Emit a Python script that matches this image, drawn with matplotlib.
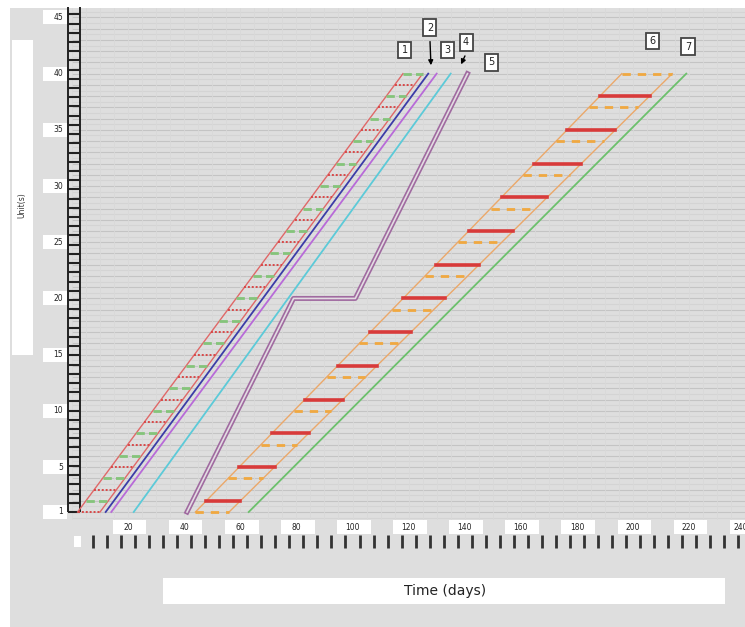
import matplotlib.pyplot as plt
import numpy as np
from matplotlib.patches import Rectangle

# Dane: czas (dni) vs jednostka (piętro)
y_ends = [1, 40]
band1_left = [2, 118]
band1_right = [10, 125]
line2_x = [12, 127]
line3_x = [14, 130]
line4_x = [22, 135]
line5_x = [41, 79, 101, 141]
line5_y = [1, 20, 20, 40]
band6_left = [44, 196]
band6_right = [56, 214]
line7_x = [63, 219]

y_tick_vals = [1, 5, 10, 15, 20, 25, 30, 35, 40, 45]
x_tick_vals = [20, 40, 60, 80, 100, 120, 140, 160, 180, 200, 220, 240]

labels = ['1', '2', '3', '4', '5', '6', '7']
label_pos = [(118.7, 42.1), (127.6, 44.1), (134, 42.1), (140.5, 42.8),
             (149.4, 41.0), (206.8, 42.9), (219.6, 42.4)]
arrow_to = {'2': (128, 40.5), '4': (138.3, 40.6)}

BG = '#dedede'
W, H = 745, 627

fig = plt.figure(figsize=(7.45, 6.27), dpi=100)
fig.patch.set_facecolor(BG)
# białe marginesy (lewy i górny)
fig.patches.append(Rectangle((0, 0), 10 / W, 1, transform=fig.transFigure,
                             facecolor='white', edgecolor='none', zorder=1))
fig.patches.append(Rectangle((0, 1 - 8 / H), 1, 8 / H, transform=fig.transFigure,
                             facecolor='white', edgecolor='none', zorder=1))
# ramka na opis osi y
fig.patches.append(Rectangle((12 / W, 1 - 355 / H), 21 / W, 315 / H,
                             transform=fig.transFigure, facecolor='white',
                             edgecolor='none', zorder=1))
fig.text(22 / W, 1 - 205 / H, 'Unit(s)', rotation=90, ha='center', va='center',
         fontsize=5.5, color='#333333')
# ramka na opis osi x
fig.patches.append(Rectangle((163 / W, 1 - 604 / H), 562 / W, 26 / H,
                             transform=fig.transFigure, facecolor='white',
                             edgecolor='none', zorder=1))
fig.text(445 / W, 1 - 591 / H, 'Time (days)', ha='center', va='center',
         fontsize=10, color='#222222')

ax = fig.add_axes([72 / W, (H - 520) / H, 673 / W, 512 / H])
ax.set_zorder(5)
ax.set_facecolor(BG)
px_day = 2.805
px_unit = 11.24
ax.set_xlim(0, 673 / px_day)
ax.set_ylim(1 - 8 / px_unit, 1 + 504 / px_unit)
for s in ax.spines.values():
    s.set_visible(False)
ax.set_xticks([])
ax.set_yticks([])

# tło - siatka
for u in np.arange(0.5, 46, 0.5):
    ax.axhline(u, color='#c4c4c4' if u % 1 == 0 else '#d4d4d4', lw=0.8, zorder=1)
for d in np.arange(0, 240, 5):
    ax.axvline(d, color='#d9d9d9', lw=0.6, zorder=1)

# drabinka osi y
ax.vlines([-1.3, 2.8], 1, 45.9, color='#222222', lw=1.4, clip_on=False, zorder=3)
ax.hlines(np.arange(1, 46, 0.82), -1.3, 2.8, color='#222222', lw=1.5,
          clip_on=False, zorder=3)

# drabinka osi x
xt = ax.get_xaxis_transform()
yt = ax.get_yaxis_transform()
ax.vlines(np.arange(7.5, 240, 5), -0.030, -0.055, color='#333333', lw=2.0,
          transform=xt, clip_on=False)
ax.add_patch(Rectangle((0.8, -0.052), 2.5, 0.02, transform=xt,
                       facecolor='white', edgecolor='none', clip_on=False))

# etykiety osi w białych ramkach
for v in y_tick_vals:
    ax.add_patch(Rectangle((-29 / 673, v - 0.62), 24 / 673, 1.24, transform=yt,
                           facecolor='white', edgecolor='none', clip_on=False))
    ax.text(-9 / 673, v, str(v), transform=yt, ha='right', va='center',
            fontsize=5.5, color='#222222', clip_on=False)
for v in x_tick_vals:
    ax.add_patch(Rectangle((v - 5.5, -14 / 512), 12, 14 / 512, transform=xt,
                           facecolor='white', edgecolor='none', clip_on=False))
    ax.annotate(str(v), xy=(v, -7 / 512), xycoords=xt, xytext=(-3 if v == 240 else 0, 0),
                textcoords='offset points', ha='center', va='center',
                fontsize=5.5, color='#222222', annotation_clip=False)


def band(left, right, edge, hatch):
    ax.plot(left, y_ends, color=edge, lw=1.0, zorder=4)
    ax.plot(right, y_ends, color=edge, lw=1.0, zorder=4)
    for u in range(1, 41):
        st = hatch(u)
        if st is None:
            continue
        xl = np.interp(u, y_ends, left)
        xr = np.interp(u, y_ends, right)
        c, lw, ls = st
        ax.plot([xl, xr], [u, u], color=c, lw=lw, ls=ls, zorder=4)


band(band1_left, band1_right, '#e06868',
     lambda u: ('#84c47a', 2.0, (0, (3, 1.5))) if u % 2 == 0 else ('#d84848', 1.4, (0, (1, 1))))
band(band6_left, band6_right, '#eba86a',
     lambda u: ('#d83a3a', 2.6, '-') if u % 3 == 2 else
     (('#f0a840', 2.0, (0, (3, 2.5))) if u % 3 == 1 else None))

ax.plot(line2_x, y_ends, color='#3c3ca8', lw=1.3, zorder=5)
ax.plot(line3_x, y_ends, color='#b86ad8', lw=1.3, zorder=5)
ax.plot(line4_x, y_ends, color='#5ccad8', lw=1.3, zorder=5)
ax.plot(line5_x, line5_y, color='#a06aa0', lw=3.6, zorder=5)
ax.plot(line5_x, line5_y, color='#e2dce2', lw=1.2, zorder=6)
ax.plot(line7_x, y_ends, color='#6cc06c', lw=1.3, zorder=5)

for lab, (lx, ly) in zip(labels, label_pos):
    ax.text(lx, ly, lab, ha='center', va='center', fontsize=7, color='#222222',
            zorder=8, clip_on=False,
            bbox=dict(facecolor='white', edgecolor='#444444', lw=1.3,
                      boxstyle='square,pad=0.35'))
    if lab in arrow_to:
        ax.annotate('', xy=arrow_to[lab], xytext=(lx, ly - 1.0), zorder=8,
                    arrowprops=dict(arrowstyle='-|>', color='black', lw=1.0,
                                    mutation_scale=7))

fig.savefig('out.png', dpi=100, facecolor=fig.get_facecolor())
